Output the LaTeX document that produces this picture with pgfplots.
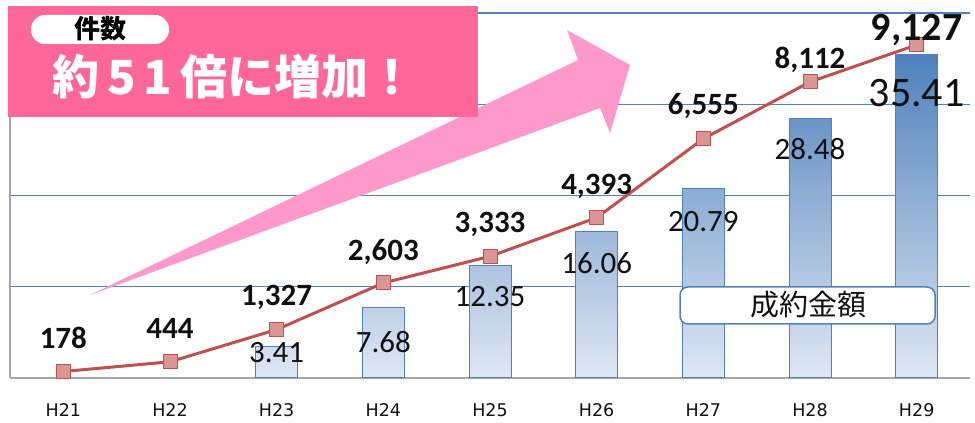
\documentclass[border=0pt]{standalone}
\usepackage{pgfplots}
\pgfplotsset{compat=1.18}
\usepackage{fontspec}
\setmainfont{Carlito}
\newfontfamily\jp{Noto Sans CJK JP}
\newfontfamily\dv{DejaVu Sans}
\definecolor{barblue}{HTML}{4F81BD}
\definecolor{barlight}{HTML}{DFE7F3}
\definecolor{linered}{HTML}{C0504D}
\definecolor{markfill}{HTML}{D99694}
\definecolor{bannerpink}{HTML}{FF6699}
\definecolor{arrowpink}{HTML}{FF99CC}
\definecolor{axgray}{HTML}{A6A6A6}
\definecolor{txt}{HTML}{111111}
\begin{document}
\begin{tikzpicture}[x=1pt,y=1pt]
\useasboundingbox (0,0) rectangle (975,423);
% bars (amount)
\begin{axis}[at={(10pt,45pt)}, anchor=south west, scale only axis,
  width=960pt, height=365pt,
  xmin=-0.5, xmax=8.5, ymin=0, ymax=40,
  xtick={0,1,2,3,4,5,6,7,8}, xticklabels={},
  ytick={10,20,30,40}, yticklabels={},
  ymajorgrids, grid style={barblue, line width=1.3pt},
  axis x line*=bottom, axis y line*=left,
  axis line style={axgray, line width=1.6pt, -},
  major tick length=0pt, tick style={draw=none},
  clip=false]
\addplot[ybar, bar width=42pt, draw=barblue, line width=1pt, top color=barblue, bottom color=barlight]
  coordinates {(2,3.41)(3,7.68)(4,12.35)(5,16.06)(6,20.79)(7,28.48)(8,35.41)};
\addplot[draw=none, no marks, nodes near coords, point meta=explicit symbolic,
  nodes near coords align={center},
  every node near coord/.append style={anchor=center, inner sep=0pt, text=txt,
    font=\fontsize{31}{31}\selectfont, text height=19.6pt, text depth=0pt}]
  table[meta=lab] {
x y lab
2 2.74 3.41
3 3.84 7.68
4 8.88 12.35
5 12.49 16.06
6 17.10 20.79
7 24.99 28.48
};
\addplot[draw=none, no marks, nodes near coords, point meta=explicit symbolic,
  nodes near coords align={center},
  every node near coord/.append style={anchor=center, inner sep=0pt, text=txt,
    font=\fontsize{42}{42}\selectfont, text height=26.5pt, text depth=0pt}]
  table[meta=lab] {
x y lab
8 31.23 35.41
};
% category labels
\addplot[draw=none, no marks, nodes near coords, point meta=explicit symbolic,
  nodes near coords align={center},
  every node near coord/.append style={anchor=center, inner sep=0pt, text=txt,
    font=\dv\fontsize{17.5}{17.5}\selectfont, text height=12.8pt, text depth=0pt}]
  table[meta=lab] {
x y lab
0 -3.51 H21
1 -3.51 H22
2 -3.51 H23
3 -3.51 H24
4 -3.51 H25
5 -3.51 H26
6 -3.51 H27
7 -3.51 H28
8 -3.51 H29
};
\end{axis}
% line (count)
\begin{axis}[at={(10pt,45pt)}, anchor=south west, scale only axis,
  width=960pt, height=365pt,
  xmin=-0.5, xmax=8.5, ymin=0, ymax=10000, hide axis, clip=false]
\addplot[linered, line width=3pt, line join=round, mark=square*, mark size=7pt,
  mark options={fill=markfill, draw=linered, line width=1pt}]
  coordinates {(0,178)(1,444)(2,1327)(3,2603)(4,3333)(5,4393)(6,6555)(7,8112)(8,9127)};
\addplot[draw=none, no marks, nodes near coords, point meta=explicit symbolic,
  nodes near coords align={center},
  every node near coord/.append style={anchor=center, inner sep=0pt, text=txt,
    font=\bfseries\fontsize{31}{31}\selectfont, text height=19.5pt, text depth=0pt}]
  table[meta=lab] {
x y lab
0 1068 178
1 1342 444
2 2247 {1,327}
3 3479 {2,603}
4 4247 {3,333}
5 5288 {4,393}
6 7479 {6,555}
7 8740 {8,112}
};
\addplot[draw=none, no marks, nodes near coords, point meta=explicit symbolic,
  nodes near coords align={center},
  every node near coord/.append style={anchor=center, inner sep=0pt, text=txt,
    font=\bfseries\fontsize{40}{40}\selectfont, text height=25.3pt, text depth=0pt}]
  table[meta=lab] {
x y lab
8 9603 {9,127}
};
\end{axis}
% big pink arrow
\fill[arrowpink] (90,128) -- (578,363) -- (567,393) -- (630,358) -- (610,290) -- (600,315) -- cycle;
% banner
\fill[bannerpink] (8,306) rectangle (478,417);
\fill[white, rounded corners=14pt] (31,379) rectangle (169,408);
\node[anchor=center, inner sep=0pt] at (100,394) {\jp\bfseries\fontsize{26}{26}\selectfont 件数};
\node[anchor=center, inner sep=0pt, text=white] at (234,346) {\jp\bfseries\fontsize{47}{47}\selectfont 約\kern8pt 5\kern8pt 1\kern8pt 倍に増加！};
% legend-like box
\filldraw[fill=white, draw=barblue, line width=1.5pt, rounded corners=8pt] (680,99) rectangle (935,136);
\node[anchor=center, inner sep=0pt, text=txt] at (808,118) {\jp\fontsize{29}{29}\selectfont 成約金額};
\end{tikzpicture}
\end{document}
